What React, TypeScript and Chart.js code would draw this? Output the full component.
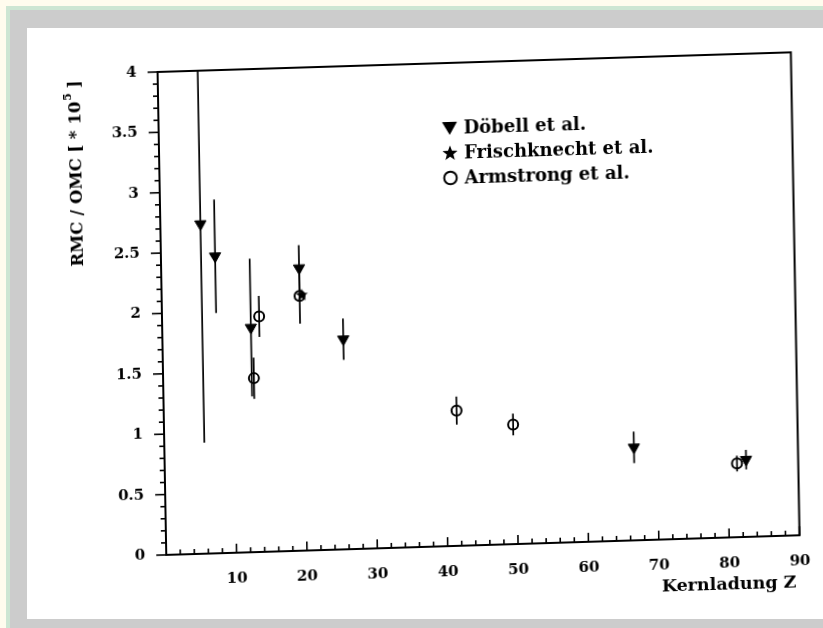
import React, { useEffect, useRef } from "react";
import { Chart, registerables } from "chart.js";

Chart.register(...registerables);

// ---- data ----
const X_TICK_LABELS = [10, 20, 30, 40, 50, 60, 70, 80, 90];
const Y_TICK_LABELS = [0, 0.5, 1, 1.5, 2, 2.5, 3, 3.5, 4];

const DOEBELL_Z = [5.7, 7.7, 12.6, 19.6, 25.7, 66.7, 82.6];
const DOEBELL_VAL = [2.73, 2.46, 1.86, 2.34, 1.74, 0.77, 0.64];
const DOEBELL_ERR = [1.81, 0.47, 0.57, 0.19, 0.17, 0.13, 0.08];

const FRISCH_Z = [19.9];
const FRISCH_VAL = [2.12];
const FRISCH_ERR = [0];

const ARM_Z = [12.9, 13.8, 19.6, 41.6, 49.6, 81.3];
const ARM_VAL = [1.44, 1.95, 2.11, 1.12, 0.99, 0.61];
const ARM_ERR = [0.17, 0.17, 0.23, 0.115, 0.09, 0.065];

const LEGEND_LABELS = ["Döbell et al.", "Frischknecht et al.", "Armstrong et al."];
const X_TITLE = "Kernladung Z";
const Y_TITLE_MAIN = "RMC / OMC [ * 10";
const Y_TITLE_SUP = "5";
const Y_TITLE_END = " ]";

const FONT_FAMILY = "'DejaVu Serif', 'Liberation Serif', serif";

function starPath(ctx: CanvasRenderingContext2D, cx: number, cy: number, R: number) {
  const r = R * 0.42;
  ctx.beginPath();
  for (let i = 0; i < 10; i++) {
    const a = -Math.PI / 2 + (i * Math.PI) / 5;
    const rr = i % 2 === 0 ? R : r;
    const x = cx + Math.cos(a) * rr;
    const y = cy + Math.sin(a) * rr;
    if (i === 0) ctx.moveTo(x, y);
    else ctx.lineTo(x, y);
  }
  ctx.closePath();
}

function makeStarCanvas(): HTMLCanvasElement {
  const c = document.createElement("canvas");
  c.width = 14;
  c.height = 14;
  const g = c.getContext("2d")!;
  g.fillStyle = "#000";
  starPath(g, 7, 7.5, 6.5);
  g.fill();
  return c;
}

function toPoints(xs: number[], ys: number[]) {
  return xs.map((x, i) => ({ x, y: ys[i] }));
}

const decorPlugin = {
  id: "decor",
  beforeDatasetsDraw(chart: any) {
    const { ctx, chartArea, scales } = chart;
    const xs = scales.x;
    const ys = scales.y;
    ctx.save();
    ctx.beginPath();
    ctx.rect(chartArea.left, chartArea.top, chartArea.right - chartArea.left, chartArea.bottom - chartArea.top);
    ctx.clip();
    ctx.strokeStyle = "#000";
    ctx.lineWidth = 1.7;
    chart.data.datasets.forEach((ds: any) => {
      const errs: number[] = ds.errors || [];
      ds.data.forEach((p: any, i: number) => {
        const e = errs[i] || 0;
        if (!e) return;
        const px = xs.getPixelForValue(p.x);
        ctx.beginPath();
        ctx.moveTo(px, ys.getPixelForValue(p.y + e));
        ctx.lineTo(px, ys.getPixelForValue(p.y - e));
        ctx.stroke();
      });
    });
    ctx.restore();
  },
  afterDraw(chart: any) {
    const { ctx, chartArea, scales } = chart;
    const xs = scales.x;
    const ys = scales.y;
    const { left, right, top, bottom } = chartArea;
    ctx.save();
    ctx.strokeStyle = "#000";
    ctx.lineWidth = 2;
    ctx.strokeRect(left, top, right - left, bottom - top);
    ctx.lineWidth = 1.6;
    // y ticks, outward
    for (let i = 0; i <= 40; i++) {
      const py = ys.getPixelForValue(i / 10);
      const len = i % 5 === 0 ? 10 : 5;
      ctx.beginPath();
      ctx.moveTo(left, py);
      ctx.lineTo(left - len, py);
      ctx.stroke();
    }
    // x ticks, inward
    for (let v = 0; v <= 90; v += 2) {
      const px = xs.getPixelForValue(v);
      const len = v % 10 === 0 ? 9 : 5;
      ctx.beginPath();
      ctx.moveTo(px, bottom);
      ctx.lineTo(px, bottom - len);
      ctx.stroke();
    }
    // x title
    ctx.fillStyle = "#000";
    ctx.font = `bold 17.5px ${FONT_FAMILY}`;
    ctx.textAlign = "right";
    ctx.textBaseline = "middle";
    ctx.fillText(X_TITLE, right - 4, bottom + 47);

    // y title (rotated, with superscript)
    ctx.save();
    ctx.translate(left - 84, top + 99);
    ctx.rotate(-Math.PI / 2);
    const mainFont = `bold 16.5px ${FONT_FAMILY}`;
    const supFont = `bold 11px ${FONT_FAMILY}`;
    ctx.font = mainFont;
    const w1 = ctx.measureText(Y_TITLE_MAIN).width;
    const w3 = ctx.measureText(Y_TITLE_END).width;
    ctx.font = supFont;
    const w2 = ctx.measureText(Y_TITLE_SUP).width;
    const total = w1 + w2 + w3;
    const x0 = -total / 2;
    ctx.textAlign = "left";
    ctx.textBaseline = "alphabetic";
    ctx.font = mainFont;
    ctx.fillText(Y_TITLE_MAIN, x0, 6);
    ctx.font = supFont;
    ctx.fillText(Y_TITLE_SUP, x0 + w1 + 1, -3);
    ctx.font = mainFont;
    ctx.fillText(Y_TITLE_END, x0 + w1 + w2, 6);
    ctx.restore();

    // legend
    const lx = left + 291;
    const ly = top + 65;
    const gap = 25;
    ctx.font = `bold 18px ${FONT_FAMILY}`;
    ctx.textAlign = "left";
    ctx.textBaseline = "middle";
    LEGEND_LABELS.forEach((lab, i) => {
      const cy = ly + i * gap;
      ctx.fillStyle = "#000";
      ctx.strokeStyle = "#000";
      if (i === 0) {
        ctx.beginPath();
        ctx.moveTo(lx - 7.5, cy - 6);
        ctx.lineTo(lx + 7.5, cy - 6);
        ctx.lineTo(lx, cy + 7);
        ctx.closePath();
        ctx.fill();
      } else if (i === 1) {
        starPath(ctx, lx, cy + 0.5, 8);
        ctx.fill();
      } else {
        ctx.lineWidth = 2;
        ctx.beginPath();
        ctx.arc(lx, cy, 6.3, 0, Math.PI * 2);
        ctx.stroke();
      }
      ctx.fillText(lab, lx + 14, cy + 1);
    });
    ctx.restore();
  },
};

export default function App() {
  const ref = useRef<HTMLCanvasElement | null>(null);

  useEffect(() => {
    if (!ref.current) return;
    const star = makeStarCanvas();
    const tickFont = { family: FONT_FAMILY, size: 15, weight: "bold" as const };
    const chart = new Chart(ref.current, {
      type: "scatter",
      data: {
        datasets: [
          {
            label: LEGEND_LABELS[0],
            data: toPoints(DOEBELL_Z, DOEBELL_VAL),
            errors: DOEBELL_ERR,
            pointStyle: "triangle",
            rotation: 180,
            radius: 6.5,
            backgroundColor: "#000",
            borderColor: "#000",
            borderWidth: 1,
          } as any,
          {
            label: LEGEND_LABELS[1],
            data: toPoints(FRISCH_Z, FRISCH_VAL),
            errors: FRISCH_ERR,
            pointStyle: star,
            radius: 7,
            backgroundColor: "#000",
            borderColor: "#000",
          } as any,
          {
            label: LEGEND_LABELS[2],
            data: toPoints(ARM_Z, ARM_VAL),
            errors: ARM_ERR,
            pointStyle: "circle",
            radius: 5,
            borderWidth: 2,
            backgroundColor: "rgba(0,0,0,0)",
            borderColor: "#000",
          } as any,
        ],
      },
      options: {
        animation: false,
        responsive: false,
        events: [],
        layout: { padding: { left: 0, top: 62, right: 17, bottom: 0 } },
        plugins: {
          legend: { display: false },
          tooltip: { enabled: false },
          title: { display: false },
        },
        scales: {
          x: {
            type: "linear",
            min: 0,
            max: 90,
            afterFit: (s: any) => {
              s.height = 83;
            },
            afterBuildTicks: (s: any) => {
              s.ticks = X_TICK_LABELS.map((v) => ({ value: v }));
            },
            grid: { display: false, drawTicks: false },
            border: { display: false },
            ticks: {
              padding: 17,
              color: "#000",
              font: tickFont,
              maxRotation: 0,
              autoSkip: false,
              callback: (v: any) => `${v}`,
            },
          },
          y: {
            type: "linear",
            min: 0,
            max: 4,
            afterFit: (s: any) => {
              s.width = 162;
            },
            afterBuildTicks: (s: any) => {
              s.ticks = Y_TICK_LABELS.map((v) => ({ value: v }));
            },
            grid: { display: false, drawTicks: false },
            border: { display: false },
            ticks: {
              padding: 21,
              color: "#000",
              font: tickFont,
              autoSkip: false,
              callback: (v: any) => `${v}`,
            },
          },
        },
      } as any,
      plugins: [decorPlugin],
    });
    return () => chart.destroy();
  }, []);

  return (
    <div
      style={{
        position: "fixed",
        left: 0,
        top: 0,
        width: 823,
        height: 628,
        background: "#fffcee",
        overflow: "hidden",
      }}
    >
      <div style={{ position: "absolute", left: 6, top: 6, right: 0, bottom: 0, background: "#cde6d3" }} />
      <div style={{ position: "absolute", left: 10, top: 10, right: 0, bottom: 0, background: "#cccccc" }} />
      <div style={{ position: "absolute", left: 27, top: 28, right: 0, bottom: 9, background: "#ffffff" }} />
      <canvas
        ref={ref}
        width={823}
        height={628}
        style={{
          position: "absolute",
          left: 0,
          top: 0,
          width: 823,
          height: 628,
          transformOrigin: "484px 303.5px",
          transform: "matrix(1, -0.031, 0.018, 1, 0, 0)",
        }}
      />
    </div>
  );
}
